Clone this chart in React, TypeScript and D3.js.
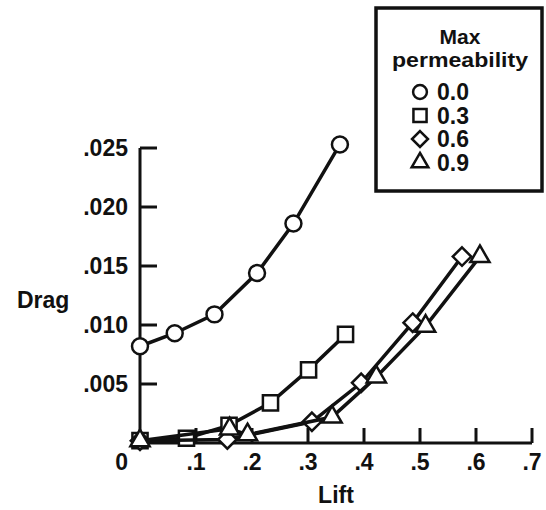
import * as d3 from 'd3';

// Lift / Drag readings, one array per permeability
const lift00 = [0, 0.062, 0.133, 0.209, 0.274, 0.357];
const drag00 = [0.0082, 0.0093, 0.0109, 0.0144, 0.0186, 0.0253];

const lift03 = [0, 0.083, 0.159, 0.233, 0.301, 0.367];
const drag03 = [0.0002, 0.0004, 0.0015, 0.0034, 0.0062, 0.0092];

const lift06 = [0, 0.156, 0.307, 0.395, 0.487, 0.575];
const drag06 = [0.0002, 0.0003, 0.0018, 0.0051, 0.0102, 0.0158];

const lift09 = [0, 0.16, 0.192, 0.343, 0.422, 0.51, 0.607];
const drag09 = [0.0002, 0.0012, 0.0007, 0.0022, 0.0056, 0.0099, 0.0158];

const xTicks = [0.1, 0.2, 0.3, 0.4, 0.5, 0.6, 0.7];
const xTickLabels = ['.1', '.2', '.3', '.4', '.5', '.6', '.7'];
const yTicks = [0.005, 0.01, 0.015, 0.02, 0.025];
const yTickLabels = ['.005', '.010', '.015', '.020', '.025'];

const legendTitle = ['Max', 'permeability'];
const legendLabels = ['0.0', '0.3', '0.6', '0.9'];

const font = '"Liberation Sans", Arial, Helvetica, sans-serif';

type Shape = 'circle' | 'square' | 'diamond' | 'triangle';

const series: { lift: number[]; drag: number[]; shape: Shape }[] = [
  { lift: lift00, drag: drag00, shape: 'circle' },
  { lift: lift03, drag: drag03, shape: 'square' },
  { lift: lift06, drag: drag06, shape: 'diamond' },
  { lift: lift09, drag: drag09, shape: 'triangle' },
];

// wide diamond (a square on its corner), d3's own diamond is too narrow
const squareDiamond: d3.SymbolType = {
  draw(ctx, size) {
    const r = Math.sqrt(size / 2);
    ctx.moveTo(0, -r);
    ctx.lineTo(r, 0);
    ctx.lineTo(0, r);
    ctx.lineTo(-r, 0);
    ctx.closePath();
  },
};

const symbolType: Record<Shape, d3.SymbolType> = {
  circle: d3.symbolCircle,
  square: d3.symbolSquare,
  diamond: squareDiamond,
  triangle: d3.symbolTriangle,
};

const symbolSize: Record<Shape, number> = {
  circle: 200,
  square: 230,
  diamond: 170,
  triangle: 160,
};

function marker(shape: Shape, scale = 1) {
  return d3.symbol().type(symbolType[shape]).size(symbolSize[shape] * scale)()!;
}

export default function App() {
  const width = 546;
  const height = 510;

  const x = d3.scaleLinear().domain([0, 0.7]).range([140, 532]);
  const y = d3.scaleLinear().domain([0, 0.025]).range([443, 148]);

  const line = d3.line<[number, number]>()
    .x(d => x(d[0]))
    .y(d => y(d[1]));

  return (
    <svg width={width} height={height} style={{ position: 'absolute', left: 0, top: 0, background: '#fff' }}>
      <g fontFamily={font} fontWeight="bold" fill="#111">
        {/* axes */}
        <line x1={x(0)} x2={x(0)} y1={y(0.025)} y2={y(0)} stroke="#111" strokeWidth={3} />
        <line x1={x(0)} x2={x(0.7)} y1={y(0)} y2={y(0)} stroke="#111" strokeWidth={3} />
        {yTicks.map((t, i) => (
          <g key={'y' + i}>
            <line x1={x(0)} x2={x(0) + 17} y1={y(t)} y2={y(t)} stroke="#111" strokeWidth={3} />
            <text x={128} y={y(t) + 8} fontSize={23} textAnchor="end">{yTickLabels[i]}</text>
          </g>
        ))}
        {xTicks.map((t, i) => (
          <g key={'x' + i}>
            <line x1={x(t)} x2={x(t)} y1={y(0)} y2={y(0) - 15} stroke="#111" strokeWidth={3} />
            <text x={x(t)} y={470} fontSize={23} textAnchor="middle">{xTickLabels[i]}</text>
          </g>
        ))}
        <text x={128} y={470} fontSize={23} textAnchor="end">0</text>
        <text x={x(0.35)} y={503} fontSize={23} textAnchor="middle">Lift</text>
        <text x={17} y={308} fontSize={23}>Drag</text>

        {/* series */}
        {series.map((s, i) => {
          const pts = s.lift.map((l, j) => [l, s.drag[j]] as [number, number]);
          return (
            <g key={'s' + i}>
              <path d={line(pts)!} fill="none" stroke="#111" strokeWidth={3.5} />
              {pts.map((p, j) => (
                <path
                  key={j}
                  d={marker(s.shape)}
                  transform={`translate(${x(p[0])},${y(p[1])})`}
                  fill="#fff"
                  stroke="#111"
                  strokeWidth={2.5}
                />
              ))}
            </g>
          );
        })}

        {/* legend */}
        <rect x={376} y={8} width={166} height={183} fill="#fff" stroke="#111" strokeWidth={3.5} />
        <text x={460} y={44} fontSize={21} textAnchor="middle">{legendTitle[0]}</text>
        <text x={460} y={67} fontSize={21} textAnchor="middle" textLength={136} lengthAdjust="spacingAndGlyphs">{legendTitle[1]}</text>
        {legendLabels.map((l, i) => (
          <g key={'l' + i} transform={`translate(0,${100 + i * 23.5})`}>
            <path
              d={marker(series[i].shape, 0.75)}
              transform="translate(420,-8)"
              fill="#fff"
              stroke="#111"
              strokeWidth={2.5}
            />
            <text x={437} y={0} fontSize={23}>{l}</text>
          </g>
        ))}
      </g>
    </svg>
  );
}
